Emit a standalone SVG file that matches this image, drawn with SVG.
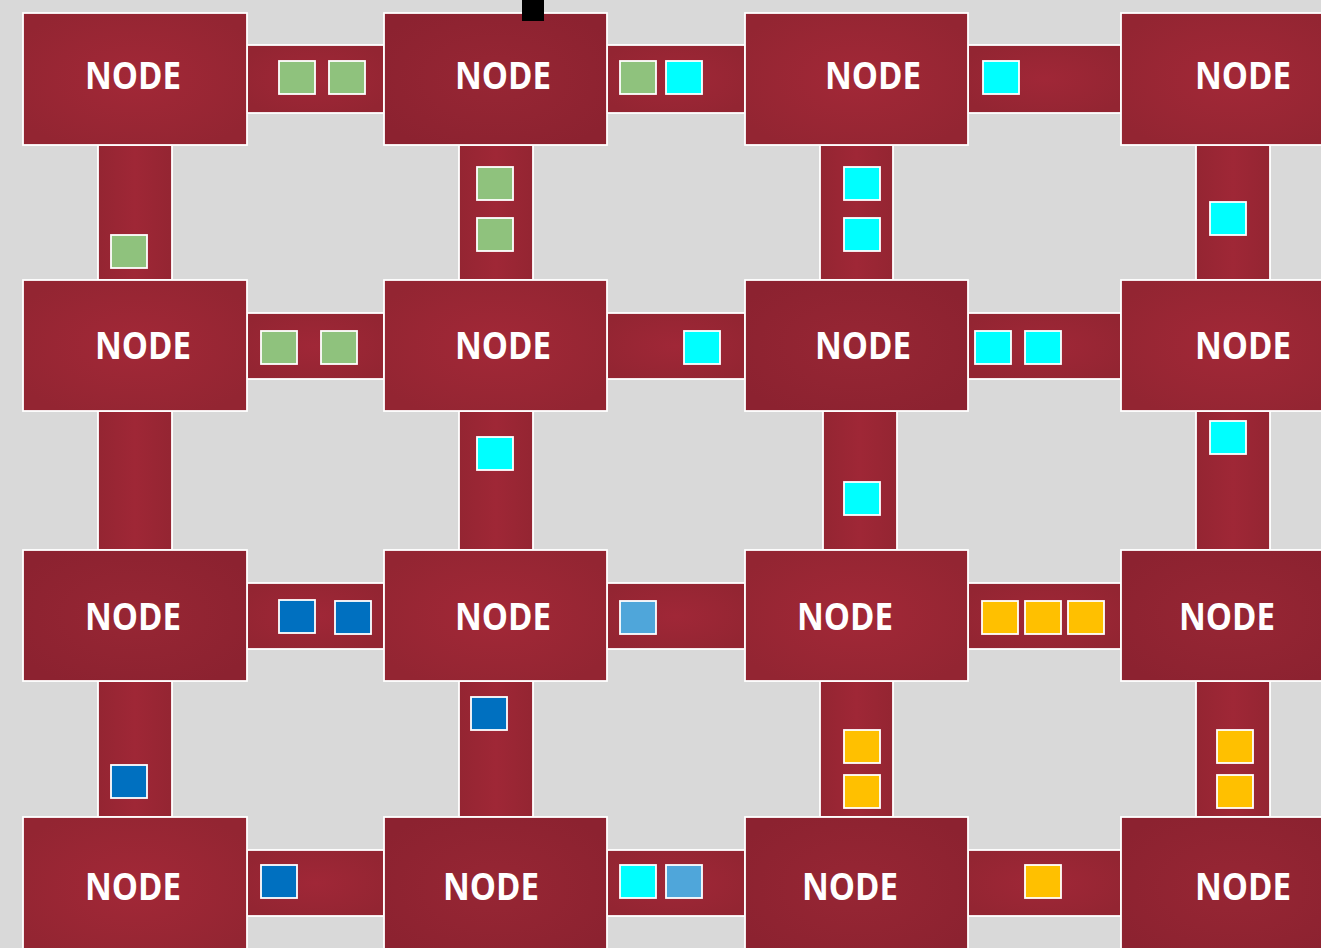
<svg xmlns="http://www.w3.org/2000/svg" width="1321" height="948" viewBox="0 0 1321 948">
<defs>
<radialGradient id="gN" cx="50%" cy="50%" r="60%"><stop offset="0" stop-color="#a22837"/><stop offset="1" stop-color="#932532"/></radialGradient>
<radialGradient id="gD" cx="50%" cy="50%" r="60%"><stop offset="0" stop-color="#972634"/><stop offset="1" stop-color="#8c2230"/></radialGradient>
<linearGradient id="gV" x1="0" y1="0" x2="1" y2="0"><stop offset="0" stop-color="#942532"/><stop offset="0.5" stop-color="#9f2736"/><stop offset="1" stop-color="#942532"/></linearGradient>
<radialGradient id="gH" cx="50%" cy="50%" r="60%"><stop offset="0" stop-color="#a02737"/><stop offset="1" stop-color="#932532"/></radialGradient>
</defs>
<style>
.n{fill:url(#gN);stroke:#fff;stroke-width:1.8}
.nd{fill:url(#gD);stroke:#fff;stroke-width:1.8}
.h{fill:url(#gH);stroke:#fff;stroke-width:1.8}
.v{fill:url(#gV);stroke:#fff;stroke-width:1.8}
.t{font-family:"Open Sans","Liberation Sans",sans-serif;font-weight:bold;font-size:37px;fill:#fff}
.s{stroke:#fff;stroke-width:1.8}
.G{fill:#8fc27d}.C{fill:#00ffff}.B{fill:#0070c0}.L{fill:#4fa6da}.Y{fill:#ffc000}
</style>
<rect width="1321" height="948" fill="#d9d9d9"/>
<g id="connectors">
<rect class="h" x="247" y="45" width="137" height="68"/>
<rect class="h" x="607" y="45" width="138" height="68"/>
<rect class="h" x="968" y="45" width="153" height="68"/>
<rect class="h" x="247" y="313" width="137" height="66"/>
<rect class="h" x="607" y="313" width="138" height="66"/>
<rect class="h" x="968" y="313" width="153" height="66"/>
<rect class="h" x="247" y="583" width="137" height="66"/>
<rect class="h" x="607" y="583" width="138" height="66"/>
<rect class="h" x="968" y="583" width="153" height="66"/>
<rect class="h" x="247" y="850" width="137" height="66"/>
<rect class="h" x="607" y="850" width="138" height="66"/>
<rect class="h" x="968" y="850" width="153" height="66"/>
<rect class="v" x="98" y="145" width="74" height="135"/>
<rect class="v" x="459" y="145" width="74" height="135"/>
<rect class="v" x="820" y="145" width="73" height="135"/>
<rect class="v" x="1196" y="145" width="74" height="135"/>
<rect class="v" x="98" y="411" width="74" height="139"/>
<rect class="v" x="459" y="411" width="74" height="139"/>
<rect class="v" x="823" y="411" width="74" height="139"/>
<rect class="v" x="1196" y="411" width="74" height="139"/>
<rect class="v" x="98" y="681" width="74" height="136"/>
<rect class="v" x="459" y="681" width="74" height="136"/>
<rect class="v" x="820" y="681" width="73" height="136"/>
<rect class="v" x="1196" y="681" width="74" height="136"/>
<g id="packets">
<rect class="s G" x="279" y="61" width="36" height="33"/>
<rect class="s G" x="329" y="61" width="36" height="33"/>
<rect class="s G" x="620" y="61" width="36" height="33"/>
<rect class="s C" x="666" y="61" width="36" height="33"/>
<rect class="s C" x="983" y="61" width="36" height="33"/>
<rect class="s G" x="111" y="235" width="36" height="33"/>
<rect class="s G" x="477" y="167" width="36" height="33"/>
<rect class="s G" x="477" y="218" width="36" height="33"/>
<rect class="s C" x="844" y="167" width="36" height="33"/>
<rect class="s C" x="844" y="218" width="36" height="33"/>
<rect class="s C" x="1210" y="202" width="36" height="33"/>
<rect class="s G" x="261" y="331" width="36" height="33"/>
<rect class="s G" x="321" y="331" width="36" height="33"/>
<rect class="s C" x="684" y="331" width="36" height="33"/>
<rect class="s C" x="975" y="331" width="36" height="33"/>
<rect class="s C" x="1025" y="331" width="36" height="33"/>
<rect class="s C" x="477" y="437" width="36" height="33"/>
<rect class="s C" x="844" y="482" width="36" height="33"/>
<rect class="s C" x="1210" y="421" width="36" height="33"/>
<rect class="s B" x="279" y="600" width="36" height="33"/>
<rect class="s B" x="335" y="601" width="36" height="33"/>
<rect class="s L" x="620" y="601" width="36" height="33"/>
<rect class="s Y" x="982" y="601" width="36" height="33"/>
<rect class="s Y" x="1025" y="601" width="36" height="33"/>
<rect class="s Y" x="1068" y="601" width="36" height="33"/>
<rect class="s B" x="111" y="765" width="36" height="33"/>
<rect class="s B" x="471" y="697" width="36" height="33"/>
<rect class="s Y" x="844" y="730" width="36" height="33"/>
<rect class="s Y" x="844" y="775" width="36" height="33"/>
<rect class="s Y" x="1217" y="730" width="36" height="33"/>
<rect class="s Y" x="1217" y="775" width="36" height="33"/>
<rect class="s B" x="261" y="865" width="36" height="33"/>
<rect class="s C" x="620" y="865" width="36" height="33"/>
<rect class="s L" x="666" y="865" width="36" height="33"/>
<rect class="s Y" x="1025" y="865" width="36" height="33"/>
</g>
</g>
<g id="node-0-0"><rect class="n" x="23" y="13" width="224" height="132"/><text class="t" x="85" y="89" textLength="96" lengthAdjust="spacingAndGlyphs">NODE</text></g>
<g id="node-0-1"><rect class="nd" x="384" y="13" width="223" height="132"/><text class="t" x="455" y="89" textLength="96" lengthAdjust="spacingAndGlyphs">NODE</text></g>
<g id="node-0-2"><rect class="n" x="745" y="13" width="223" height="132"/><text class="t" x="825" y="89" textLength="96" lengthAdjust="spacingAndGlyphs">NODE</text></g>
<g id="node-0-3"><rect class="n" x="1121" y="13" width="224" height="132"/><text class="t" x="1195" y="89" textLength="96" lengthAdjust="spacingAndGlyphs">NODE</text></g>
<g id="node-1-0"><rect class="n" x="23" y="280" width="224" height="131"/><text class="t" x="95" y="359" textLength="96" lengthAdjust="spacingAndGlyphs">NODE</text></g>
<g id="node-1-1"><rect class="n" x="384" y="280" width="223" height="131"/><text class="t" x="455" y="359" textLength="96" lengthAdjust="spacingAndGlyphs">NODE</text></g>
<g id="node-1-2"><rect class="nd" x="745" y="280" width="223" height="131"/><text class="t" x="815" y="359" textLength="96" lengthAdjust="spacingAndGlyphs">NODE</text></g>
<g id="node-1-3"><rect class="n" x="1121" y="280" width="224" height="131"/><text class="t" x="1195" y="359" textLength="96" lengthAdjust="spacingAndGlyphs">NODE</text></g>
<g id="node-2-0"><rect class="nd" x="23" y="550" width="224" height="131"/><text class="t" x="85" y="630" textLength="96" lengthAdjust="spacingAndGlyphs">NODE</text></g>
<g id="node-2-1"><rect class="n" x="384" y="550" width="223" height="131"/><text class="t" x="455" y="630" textLength="96" lengthAdjust="spacingAndGlyphs">NODE</text></g>
<g id="node-2-2"><rect class="n" x="745" y="550" width="223" height="131"/><text class="t" x="797" y="630" textLength="96" lengthAdjust="spacingAndGlyphs">NODE</text></g>
<g id="node-2-3"><rect class="nd" x="1121" y="550" width="224" height="131"/><text class="t" x="1179" y="630" textLength="96" lengthAdjust="spacingAndGlyphs">NODE</text></g>
<g id="node-3-0"><rect class="n" x="23" y="817" width="224" height="140"/><text class="t" x="85" y="900" textLength="96" lengthAdjust="spacingAndGlyphs">NODE</text></g>
<g id="node-3-1"><rect class="nd" x="384" y="817" width="223" height="140"/><text class="t" x="443" y="900" textLength="96" lengthAdjust="spacingAndGlyphs">NODE</text></g>
<g id="node-3-2"><rect class="nd" x="745" y="817" width="223" height="140"/><text class="t" x="802" y="900" textLength="96" lengthAdjust="spacingAndGlyphs">NODE</text></g>
<g id="node-3-3"><rect class="nd" x="1121" y="817" width="224" height="140"/><text class="t" x="1195" y="900" textLength="96" lengthAdjust="spacingAndGlyphs">NODE</text></g>
<rect id="marker" x="522" y="0" width="22" height="21" fill="#000"/>
</svg>
